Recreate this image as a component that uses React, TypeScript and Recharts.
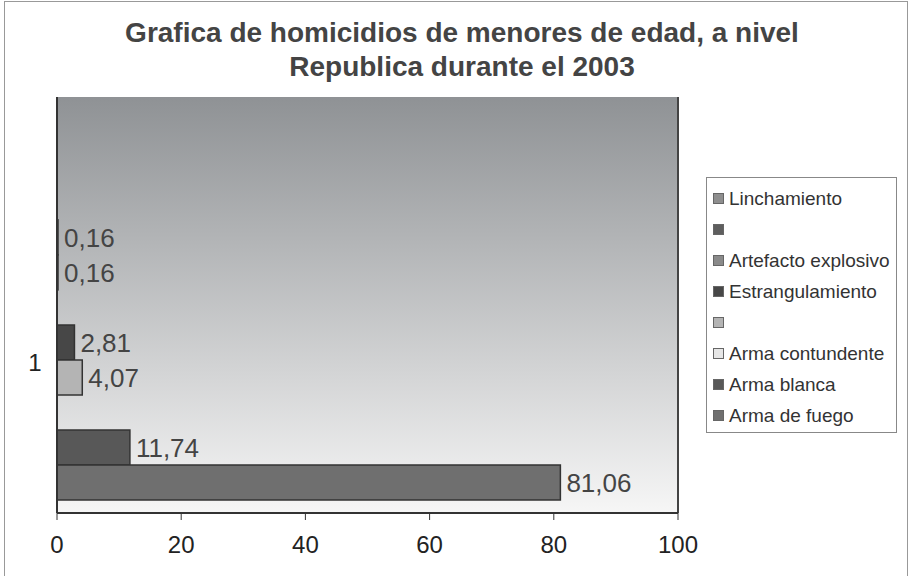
import React from 'react';
import { BarChart, Bar, XAxis, YAxis, CartesianGrid, LabelList, ReferenceLine } from 'recharts';

// one category, eight series (two of them have no name in the original)
const categories = ['1'];
const seriesNames = ['Linchamiento', '', 'Artefacto explosivo', 'Estrangulamiento', '', 'Arma contundente', 'Arma blanca', 'Arma de fuego'];
const seriesValues: (number | null)[] = [0.16, 0.16, null, 2.81, 4.07, null, 11.74, 81.06];
const seriesColors = ['#8e8e8e', '#5e5e5e', '#8a8a8a', '#474747', '#b4b4b4', '#e6e6e6', '#585858', '#6f6f6f'];
// the original reserves three more (empty) slots above the bars
const emptySlots = ['e0', 'e1', 'e2'];
const xTicks = [0, 20, 40, 60, 80, 100];

const FONT = '"Liberation Sans", Arial, sans-serif';

const data = categories.map((name) => {
  const row: Record<string, string | number | null> = { name };
  seriesValues.forEach((v, i) => {
    row[`s${i}`] = v;
  });
  return row;
});

const fmt = (v: unknown) => (typeof v === 'number' ? v.toFixed(2).replace('.', ',') : '');

const CategoryTick = (props: any) => {
  const { y, payload } = props;
  return (
    <text x={35} y={y + 57} textAnchor="middle" dominantBaseline="central" fontSize={24} fill="#222" fontFamily={FONT}>
      {payload.value}
    </text>
  );
};

export default function App() {
  return (
    <div style={{ position: 'absolute', left: 0, top: 0, width: 911, height: 576, background: '#fff', fontFamily: FONT }}>
      <div style={{ position: 'absolute', left: 4, top: 1, width: 902, height: 580, border: '1px solid #999' }} />
      <div
        style={{
          position: 'absolute',
          left: 0,
          top: 16,
          width: 924,
          textAlign: 'center',
          fontWeight: 'bold',
          fontSize: 28,
          lineHeight: '34px',
          color: '#444',
        }}
      >
        Grafica de homicidios de menores de edad, a nivel
        <br />
        Republica durante el 2003
      </div>

      <BarChart
        width={911}
        height={576}
        data={data}
        layout="vertical"
        margin={{ top: 97, right: 233, bottom: 23, left: 0 }}
        barCategoryGap="4.3%"
        barGap={0}
        style={{ position: 'absolute', left: 0, top: 0 }}
      >
        <defs>
          <linearGradient id="plotBg" x1="0" y1="0" x2="0" y2="1">
            <stop offset="0%" stopColor="#8f9295" />
            <stop offset="100%" stopColor="#f6f6f6" />
          </linearGradient>
        </defs>
        <CartesianGrid horizontal={false} vertical={false} fill="url(#plotBg)" />
        <XAxis
          type="number"
          domain={[0, 100]}
          ticks={xTicks}
          height={40}
          tickSize={7}
          tickLine={{ stroke: '#333' }}
          axisLine={{ stroke: '#333', strokeWidth: 2 }}
          tick={{ fontSize: 24, fill: '#222', fontFamily: FONT }}
          tickMargin={16}
        />
        <XAxis
          xAxisId="top"
          orientation="top"
          type="number"
          domain={[0, 100]}
          height={0}
          tick={false}
          tickLine={false}
          axisLine={{ stroke: '#444', strokeWidth: 2 }}
        />
        <YAxis
          type="category"
          dataKey="name"
          width={57}
          tickLine={false}
          axisLine={{ stroke: '#333', strokeWidth: 2 }}
          tick={<CategoryTick />}
        />
        <ReferenceLine x={100} stroke="#444" strokeWidth={2} />
        {emptySlots.map((k) => (
          <Bar key={k} dataKey={k} fill="none" isAnimationActive={false} />
        ))}
        {seriesNames.map((n, i) => (
          <Bar
            key={i}
            dataKey={`s${i}`}
            name={n || `(sin nombre ${i})`}
            fill={seriesColors[i]}
            stroke="#333"
            strokeWidth={1.5}
            isAnimationActive={false}
          >
            <LabelList
              dataKey={`s${i}`}
              position="right"
              offset={6}
              formatter={fmt}
              style={{ fontSize: 26, fill: '#444', fontFamily: FONT }}
            />
          </Bar>
        ))}
      </BarChart>

      <div
        style={{
          position: 'absolute',
          left: 706,
          top: 177,
          width: 191,
          height: 256,
          border: '1px solid #888',
          background: '#fff',
          boxSizing: 'border-box',
          padding: '5px 0 0 6px',
        }}
      >
        {seriesNames.map((n, i) => (
          <div key={i} style={{ height: 31, display: 'flex', alignItems: 'center', fontSize: 19, color: '#333', whiteSpace: 'nowrap' }}>
            <span
              style={{
                width: 9,
                height: 9,
                background: seriesColors[i],
                border: '1px solid #666',
                marginRight: 5,
                flex: 'none',
              }}
            />
            {n}
          </div>
        ))}
      </div>
    </div>
  );
}
